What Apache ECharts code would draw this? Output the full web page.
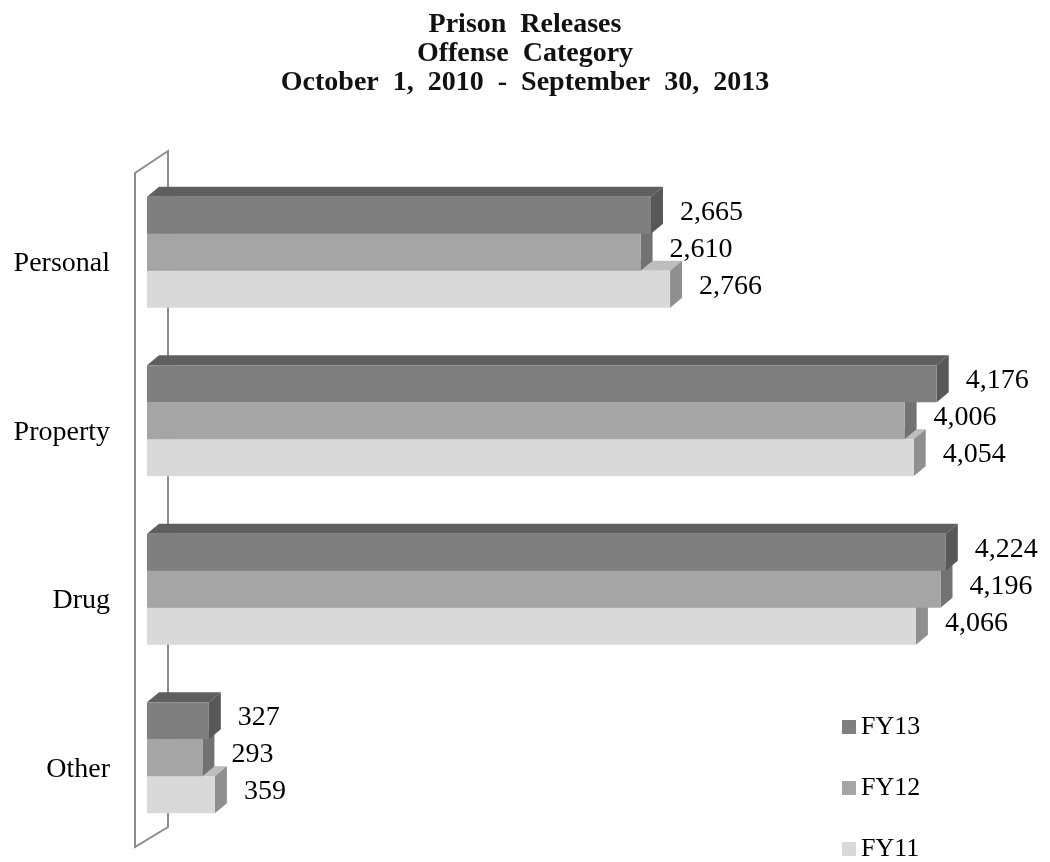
<!DOCTYPE html>
<html>
<head>
<meta charset="utf-8">
<script src="https://cdn.jsdelivr.net/npm/echarts@6/dist/echarts.min.js"></script>
<style>html,body{margin:0;padding:0;background:#fff;}#c{width:1050px;height:862px;}</style>
</head>
<body>
<div id="c"></div>
<script>
var categories = ['Personal', 'Property', 'Drug', 'Other'];
var seriesNames = ['FY13', 'FY12', 'FY11'];
var fy13 = [2665, 4176, 4224, 327];
var fy12 = [2610, 4006, 4196, 293];
var fy11 = [2766, 4054, 4066, 359];
var titleLines = ['Prison  Releases', 'Offense  Category', 'October  1,  2010  -  September  30,  2013'];

var FONT = '"Liberation Serif", "Times New Roman", serif';
var palette = [
  {front: '#7f7f7f', top: '#5f5f5f', side: '#585858'},
  {front: '#a5a5a5', top: '#878787', side: '#727272'},
  {front: '#d9d9d9', top: '#bdbdbd', side: '#8f8f8f'}
];
var DX = 12, DY = 10;

function fmt(v) { return v.toLocaleString('en-US'); }

function makeRender(k) {
  return function (params, api) {
    var idx = api.value(1);
    var val = api.value(0);
    var bandH = api.size([0, 1])[1];
    var groupH = bandH * 0.66;
    var barH = groupH / 3;
    var c0 = api.coord([0, idx]);
    var c1 = api.coord([val, idx]);
    var x0 = c0[0], xe = c1[0];
    var top = c0[1] - groupH / 2 + k * barH;
    var col = palette[k];
    return {
      type: 'group',
      children: [
        {type: 'polygon', shape: {points: [[x0, top], [x0 + DX, top - DY], [xe + DX, top - DY], [xe, top]]}, style: {fill: col.top}},
        {type: 'polygon', shape: {points: [[xe, top], [xe + DX, top - DY], [xe + DX, top + barH - DY], [xe, top + barH]]}, style: {fill: col.side}},
        {type: 'rect', shape: {x: x0, y: top, width: xe - x0, height: barH}, style: {fill: col.front}},
        {type: 'text', x: xe + DX + 17, y: top + barH / 2 - 3,
         style: {text: fmt(val), font: '28px ' + FONT, fill: '#000', verticalAlign: 'middle', align: 'left'}}
      ]
    };
  };
}

function wallRender(params, api) {
  var cs = params.coordSys;
  var fx = cs.x - 12, bx = cs.x + 21;
  var pts = [[fx, cs.y + 5], [bx, cs.y - 17], [bx, cs.y + cs.height - 15], [fx, cs.y + cs.height + 5]];
  return {type: 'polygon', shape: {points: pts}, style: {fill: 'none', stroke: '#8c8c8c', lineWidth: 2}};
}

var seriesData = [fy13, fy12, fy11];
var series = [{
  type: 'custom', name: '_wall', z: 1, silent: true,
  data: [[0, 0]], encode: {x: 0, y: 1}, renderItem: wallRender
}];
seriesNames.forEach(function (name, k) {
  series.push({
    type: 'custom', name: name, z: 10 - k,
    itemStyle: {color: palette[k].front},
    data: seriesData[k].map(function (v, i) { return [v, i]; }),
    encode: {x: 0, y: 1},
    renderItem: makeRender(k)
  });
});

var legends = seriesNames.map(function (name, k) {
  return {
    data: [name], orient: 'vertical', left: 842, top: 714 + k * 61,
    icon: 'rect', itemWidth: 14, itemHeight: 14, padding: 0,
    textStyle: {fontFamily: FONT, fontSize: 26, color: '#000'}
  };
});

var chart = echarts.init(document.getElementById('c'));
chart.setOption({
  backgroundColor: '#fff',
  animation: false,
  title: {
    text: titleLines.join('\n'), left: 'center', top: 5,
    textStyle: {fontFamily: FONT, fontWeight: 'bold', fontSize: 28, lineHeight: 29, color: '#111'}
  },
  legend: legends,
  grid: {left: 147, top: 168, width: 851, height: 674},
  xAxis: {type: 'value', min: 0, max: 4500, show: false},
  yAxis: {
    type: 'category', data: categories, inverse: true,
    axisLine: {show: false}, axisTick: {show: false},
    axisLabel: {fontFamily: FONT, fontSize: 28, color: '#000', margin: 37, verticalAlign: 'top', lineHeight: 23}
  },
  series: series
});
</script>
</body>
</html>
